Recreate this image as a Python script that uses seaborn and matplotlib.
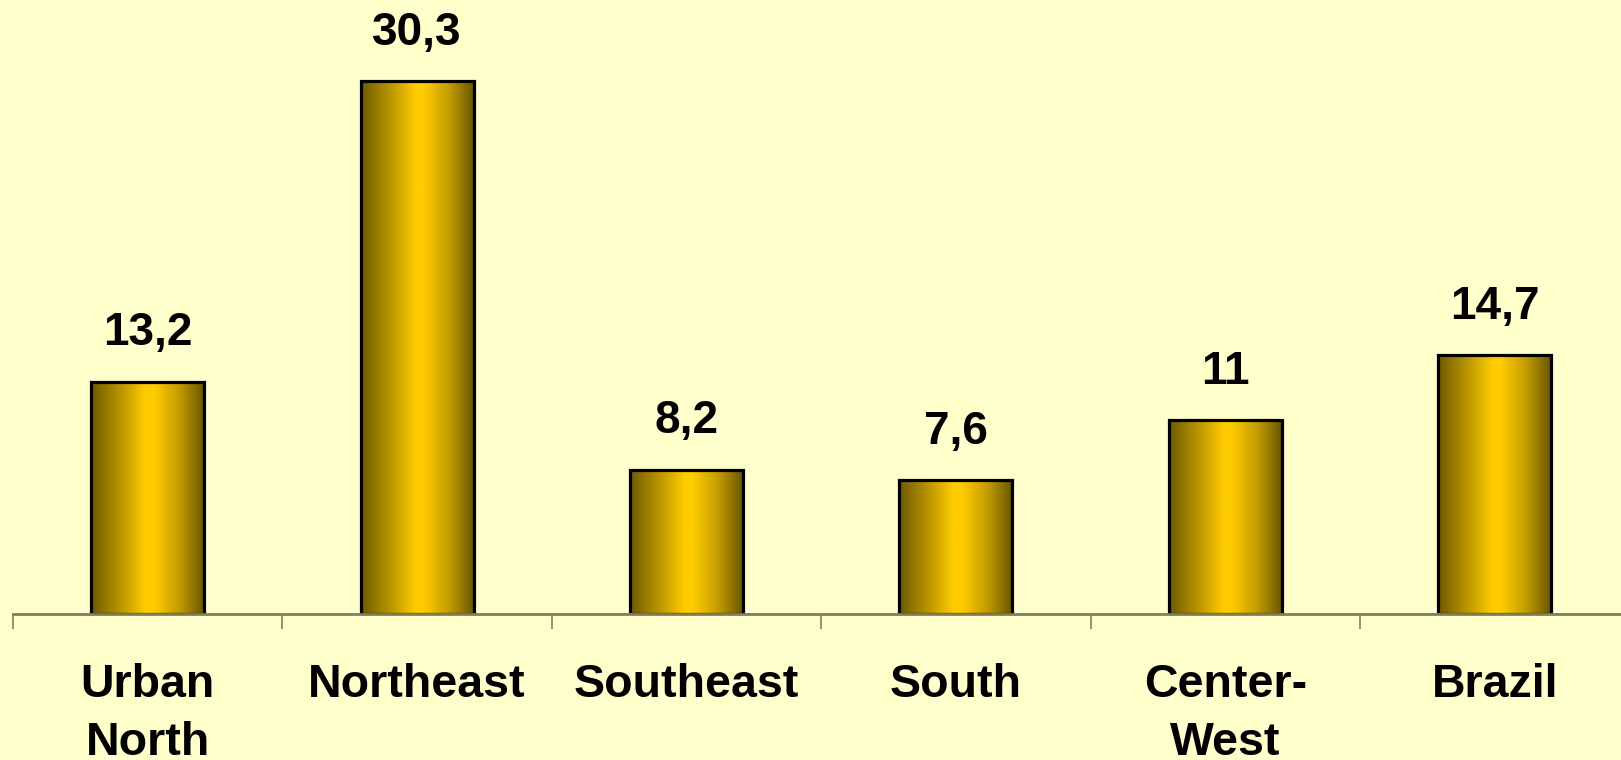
import numpy as np
import pandas as pd
import matplotlib
matplotlib.use("Agg")
import matplotlib.pyplot as plt
from matplotlib.colors import LinearSegmentedColormap
import seaborn as sns

categories = ["Urban\nNorth", "Northeast", "Southeast", "South", "Center-\nWest", "Brazil"]
values = [13.2, 30.3, 8.2, 7.6, 11.0, 14.7]
value_labels = ["13,2", "30,3", "8,2", "7,6", "11", "14,7"]

sns.set_theme(style="white")
plt.rcParams["font.family"] = ["Liberation Sans", "DejaVu Sans"]
plt.rcParams["font.weight"] = "bold"

BG = "#FFFFCC"
fig = plt.figure(figsize=(16.21, 7.60), dpi=100, facecolor=BG)
ax = fig.add_axes([13 / 1621, 146 / 760, 6 * 269.4 / 1621, 614 / 760])
ax.set_facecolor(BG)

df = pd.DataFrame({"cat": categories, "val": values})
sns.barplot(data=df, x="cat", y="val", color="#FFCC00", edgecolor="black",
            linewidth=2.3, width=0.42, ax=ax, zorder=3)

cmap = LinearSegmentedColormap.from_list(
    "gold", [(0.0, "#6E5B00"), (0.25, "#B89300"), (0.48, "#FFCC00"),
             (0.55, "#FFCC00"), (0.78, "#C29B00"), (1.0, "#665400")])
grad = np.linspace(0, 1, 256).reshape(1, -1)
for p in ax.patches:
    x0, y0 = p.get_x(), p.get_y()
    w, h = p.get_width(), p.get_height()
    im = ax.imshow(grad, cmap=cmap, extent=[x0, x0 + w, y0, y0 + h],
                   aspect="auto", zorder=3.5, interpolation="bicubic")
    im.set_clip_path(p)
    p.set_zorder(4)
    p.set_facecolor("none")

ax.set_xlim(-0.5, 5.5)
ax.set_ylim(0, 34.9)

for p, lab in zip(ax.patches, value_labels):
    ax.annotate(lab, (p.get_x() + p.get_width() / 2, p.get_height()),
                xytext=(0, 19), textcoords="offset points",
                ha="center", va="bottom", fontsize=33, fontweight="bold",
                color="black")

ax.set_xlabel("")
ax.set_ylabel("")
ax.set_yticks([])
ax.set_xticks(range(len(categories)))
ax.set_xticklabels(categories, fontsize=33.5, fontweight="bold", linespacing=1.42)
ax.tick_params(axis="x", which="major", bottom=True, length=0, pad=35, colors="black")
ax.set_xticks(np.arange(-0.5, len(categories), 1.0), minor=True)
ax.tick_params(axis="x", which="minor", bottom=True, length=11, width=1.2,
               color="#7F7F60", direction="out")

for s in ["top", "right", "left"]:
    ax.spines[s].set_visible(False)
ax.spines["bottom"].set_color("#7F7F60")
ax.spines["bottom"].set_linewidth(2.0)
ax.spines["bottom"].set_zorder(5)

fig.savefig("out.png", dpi=100, facecolor=BG)
